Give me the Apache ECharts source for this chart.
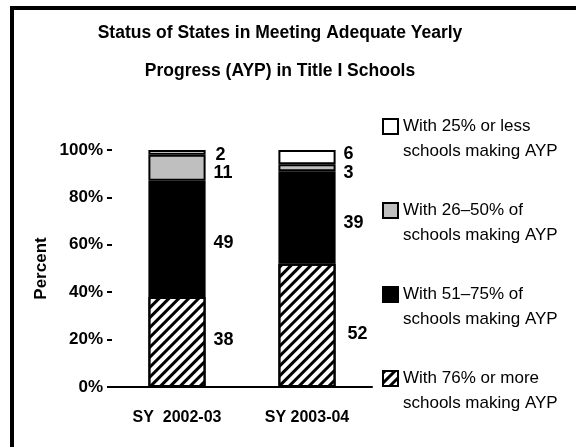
<!DOCTYPE html>
<html>
<head>
<meta charset="utf-8">
<script src="https://cdn.jsdelivr.net/npm/echarts@6/dist/echarts.min.js"></script>
<style>
  html, body { margin: 0; padding: 0; background: #fff; }
  #main { width: 576px; height: 447px; }
</style>
</head>
<body>
<div id="main"></div>
<script>
// school years on the x axis
const years = ['SY  2002-03', 'SY 2003-04']

// percent of states in each group, per year
const ayp76 = [38, 52]
const ayp51 = [49, 39]
const ayp26 = [11, 3]
const ayp25 = [2, 6]

const legendNames = [
  'With 25% or less\nschools making AYP',
  'With 26\u201350% of\nschools making AYP',
  'With 51\u201375% of\nschools making AYP',
  'With 76% or more\nschools making AYP',
]

// small nudges so the value labels sit like the original
const labelShift = {
  ayp76: [[0, -2], [4, 9]],
  ayp51: [[0, 4], [0, 5]],
  ayp26: [[0, 5], [0, 5]],
  ayp25: [[2, 3], [0, -3]],
}

var chartDom = document.getElementById('main')
var myChart = echarts.init(chartDom)

const FONT = '"Liberation Sans", Arial, sans-serif'

function makeSeries(name, values, fill, shift, decal) {
  return {
    name: name,
    type: 'bar',
    stack: 'total',
    barWidth: '44%',
    itemStyle: {
      color: fill,
      borderColor: '#000',
      borderWidth: 2,
      decal: decal,
    },
    label: {
      show: true,
      position: 'right',
      distance: 8,
      color: '#000',
      fontFamily: FONT,
      fontWeight: 'bold',
      fontSize: 18,
    },
    data: values.map((v, i) => ({
      value: v,
      label: { offset: shift[i] },
    })),
  }
}

var option = {
  animation: false,
  backgroundColor: '#fff',
  textStyle: { fontFamily: FONT },
  title: {
    text: 'Status of States in Meeting Adequate Yearly\nProgress (AYP) in Title I Schools',
    left: 275,
    textAlign: 'center',
    top: 9,
    textStyle: {
      fontFamily: FONT,
      fontWeight: 'bold',
      fontSize: 17.5,
      lineHeight: 38,
      color: '#000',
    },
  },
  graphic: [
    { type: 'rect', shape: { x: 10, y: 6, width: 4, height: 441 }, style: { fill: '#000' } },
    { type: 'rect', shape: { x: 10, y: 6, width: 566, height: 4 }, style: { fill: '#000' } },
  ],
  legend: {
    orient: 'vertical',
    left: 377,
    top: 84,
    icon: 'rect',
    itemWidth: 15,
    itemHeight: 15,
    itemGap: 9,
    data: legendNames,
    // leading blank line keeps the box beside the first line of text
    formatter: (name) => '\n' + name,
    textStyle: {
      fontFamily: FONT,
      fontSize: 17,
      lineHeight: 25,
      color: '#000',
    },
  },
  grid: {
    left: 112,
    right: 204,
    top: 150,
    bottom: 60,
  },
  xAxis: {
    type: 'category',
    data: years,
    axisLine: { lineStyle: { color: '#000', width: 2 } },
    axisTick: { show: false },
    axisLabel: {
      color: '#000',
      fontFamily: FONT,
      fontWeight: 'bold',
      fontSize: 16,
      margin: 23,
    },
  },
  yAxis: {
    type: 'value',
    min: 0,
    max: 100,
    interval: 20,
    name: 'Percent',
    nameLocation: 'middle',
    nameRotate: 90,
    nameGap: 62,
    nameTextStyle: {
      color: '#000',
      fontFamily: FONT,
      fontWeight: 'bold',
      fontSize: 17,
    },
    axisLine: { show: false },
    axisTick: { show: true, length: 5, lineStyle: { color: '#000', width: 2 } },
    splitLine: { show: false },
    axisLabel: {
      formatter: '{value}%',
      color: '#000',
      fontFamily: FONT,
      fontWeight: 'bold',
      fontSize: 17,
      margin: 9,
    },
  },
  series: [
    makeSeries(legendNames[3], ayp76, '#fff', labelShift.ayp76, {
      symbol: 'rect',
      symbolSize: 1,
      dashArrayX: [1, 0],
      dashArrayY: [3, 4],
      rotation: -Math.PI / 4,
      color: '#000',
    }),
    makeSeries(legendNames[2], ayp51, '#000', labelShift.ayp51),
    makeSeries(legendNames[1], ayp26, '#bfbfbf', labelShift.ayp26),
    makeSeries(legendNames[0], ayp25, '#fff', labelShift.ayp25),
  ],
}

option && myChart.setOption(option)

window.addEventListener('resize', function () {
  myChart.resize()
})
</script>
</body>
</html>
